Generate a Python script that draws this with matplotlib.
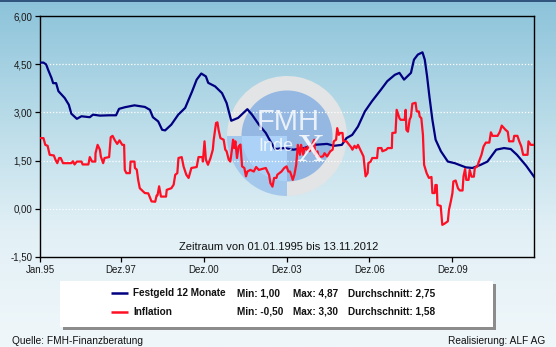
import numpy as np
import matplotlib
matplotlib.use("Agg")
import matplotlib.pyplot as plt
from matplotlib.patches import Circle, Wedge, Rectangle
from matplotlib.colors import LinearSegmentedColormap

# month offsets since Jan 1995 and values
fest_months = [0, 1.5, 2.7, 3.5, 5, 5.7, 7, 8, 10.7, 12.5, 13.6, 16, 18, 21.6, 23, 26, 30, 33,
               34.3, 36.8, 41, 45.5, 47.7, 49, 51.3, 53, 54.3, 57, 60, 63, 66, 68, 70, 72, 73,
               76, 79, 81, 83, 86, 90, 92, 95, 98, 100, 102, 106, 110, 114.5, 119, 124.6,
               127.5, 131, 133, 135.5, 138, 141, 144, 148, 150.7, 154, 156, 158, 161, 162.3,
               164, 166, 167, 168, 169, 170.3, 171.7, 174, 177, 180, 184.8, 187.7, 191.3,
               194.2, 198, 201.4, 204.3, 207, 211, 214.4]
fest_values = [4.55, 4.55, 4.49, 4.33, 4.07, 3.91, 3.91, 3.66, 3.45, 3.24, 2.96, 2.80, 2.88,
               2.85, 2.93, 2.90, 2.91, 2.91, 3.11, 3.16, 3.22, 3.17, 3.08, 2.85, 2.72, 2.46,
               2.44, 2.62, 2.93, 3.14, 3.65, 4.02, 4.21, 4.12, 3.92, 3.81, 3.60, 3.29, 2.74,
               2.83, 3.10, 2.93, 2.62, 2.36, 2.10, 1.86, 1.89, 1.84, 1.89, 1.99, 2.02, 1.96,
               1.99, 2.20, 2.30, 2.56, 3.03, 3.34, 3.71, 3.97, 4.17, 4.23, 4.02, 4.23, 4.64,
               4.80, 4.87, 4.64, 4.12, 3.50, 2.77, 2.15, 1.79, 1.47, 1.42, 1.29, 1.27, 1.37,
               1.47, 1.84, 1.89, 1.86, 1.68, 1.34, 1.00]

infl_months = [0, 1.5, 2.3, 3.3, 4.2, 6, 6.7, 7.5, 8.3, 9, 10, 13.6, 14.3, 15, 16, 18, 18.5,
               21, 21.6, 22.6, 24, 24.1, 25, 26, 26.4, 27.4, 28, 30, 30.7, 31.5, 32.5, 33.5,
               34.5, 35.7, 36.5, 36.8, 37.5, 39, 39.3, 41, 41.2, 42, 42.6, 43.3, 45.5, 47,
               48.4, 50, 50.6, 51, 51.7, 52.5, 54.7, 55, 57, 58, 58.7, 59.6, 60.1, 61.5, 62.3,
               63.5, 64.5, 65.7, 68, 68.8, 70.5, 70.7, 71.4, 72, 72.9, 74, 75, 75.4, 76.4, 77,
               77.5, 78.3, 79.7, 80.4, 81, 81.9, 82.6, 83.3, 83.8, 84.3, 84.8, 85.5, 86.2, 87,
               87.7, 88.7, 89.4, 90, 91.3, 92.8, 93.8, 95, 96.4, 98, 98.7, 99.4, 100, 100.9,
               101.6, 102.6, 103, 104.8, 106, 107, 107.8, 108.5, 109, 109.7, 110.4, 111.2,
               111.9, 112.8, 113.3, 114.3, 114.8, 115.7, 116.2, 117, 118, 119, 119.4, 120.4,
               121, 122.8, 123.5, 124.6, 126, 127, 127.5, 128.5, 129, 129.7, 130.3, 131.3,
               131.6, 133, 135, 135.6, 136.5, 137.3, 138, 139, 140.4, 141.3, 142.2, 142.5,
               143.5, 144.2, 146.3, 146.7, 148.2, 148.6, 150.3, 150.9, 152.7, 152.9, 154.3,
               154.8, 156, 156.5, 158.3, 158.7, 159, 159.7, 160.4, 161, 161.6, 163, 163.5,
               164.4, 164.8, 165.5, 166.2, 166.7, 167.8, 168.8, 169.9, 170.3, 171.3, 171.6,
               172.2, 172.5, 173.9, 174.6, 175.4, 177, 177.5, 178.3, 179, 179.4, 180.4, 181.4,
               182.2, 183.4, 183.8, 184.5, 185, 186, 186.5, 187.3, 188.3, 188.7, 189.8, 190.5,
               191.6, 192.5, 193.5, 195, 195.7, 196.4, 198.6, 199.6, 200.4, 201.4, 202, 203,
               203.6, 205.4, 205.8, 207.2, 208, 208.9, 209.7, 211.6, 212, 213, 214.4]
infl_values = [2.20, 2.20, 1.99, 1.96, 1.68, 1.66, 1.53, 1.42, 1.58, 1.58, 1.42, 1.42, 1.48,
               1.38, 1.47, 1.47, 1.38, 1.38, 1.61, 1.47, 1.47, 1.73, 1.99, 1.84, 1.63, 1.42,
               1.58, 1.61, 2.23, 2.27, 2.13, 2.02, 2.13, 1.99, 1.99, 1.21, 1.11, 1.11, 1.47,
               1.47, 1.27, 1.22, 0.90, 0.64, 0.49, 0.48, 0.23, 0.22, 0.41, 0.42, 0.70, 0.38,
               0.38, 0.59, 0.64, 0.75, 1.06, 1.11, 1.58, 1.61, 1.32, 1.06, 0.96, 1.27, 1.30,
               1.61, 1.61, 1.47, 2.10, 1.53, 1.37, 1.58, 1.84, 2.15, 2.67, 2.69, 2.46, 2.20,
               2.15, 1.84, 1.79, 1.53, 1.47, 1.84, 2.15, 1.89, 2.10, 1.58, 1.94, 2.00, 1.32,
               1.27, 1.01, 1.16, 1.21, 1.16, 1.30, 1.21, 1.24, 1.27, 1.16, 1.06, 0.80, 0.69,
               0.96, 0.96, 1.06, 1.16, 1.27, 1.32, 1.16, 1.16, 1.06, 0.90, 1.06, 1.37, 1.99,
               1.68, 1.99, 1.68, 1.89, 1.84, 1.94, 1.79, 1.96, 2.15, 1.68, 1.79, 1.61, 1.63,
               1.73, 1.63, 1.79, 1.84, 2.10, 2.15, 2.51, 2.30, 2.36, 2.36, 2.10, 2.10, 1.92,
               1.84, 1.96, 1.89, 1.99, 1.84, 1.63, 1.01, 1.11, 1.42, 1.47, 1.58, 1.58, 1.89,
               1.89, 1.79, 1.84, 1.89, 1.89, 2.36, 2.37, 3.08, 2.82, 2.77, 2.77, 3.08, 2.46,
               2.40, 2.77, 2.87, 3.27, 3.30, 3.03, 3.03, 2.87, 2.82, 2.30, 1.37, 1.11, 0.96,
               0.99, 0.49, 0.49, 0.74, 0.74, 0.12, 0.09, -0.50, -0.47, -0.39, -0.03, 0.23,
               0.49, 0.85, 0.88, 0.64, 0.57, 0.57, 1.01, 1.24, 0.90, 0.90, 1.21, 1.00, 1.00,
               1.27, 1.32, 1.47, 1.68, 1.94, 2.06, 2.06, 2.38, 2.27, 2.27, 2.40, 2.59, 2.51,
               2.46, 2.40, 2.10, 2.10, 2.27, 2.27, 2.10, 1.94, 1.68, 1.68, 2.10, 1.99, 1.99]

tick_dates = [(1995, 1), (1997, 12), (2000, 12), (2003, 12), (2006, 12), (2009, 12)]
tick_labels = ["Jan.95", "Dez.97", "Dez.00", "Dez.03", "Dez.06", "Dez.09"]
y_ticks = [-1.5, 0.0, 1.5, 3.0, 4.5, 6.0]

series_names = ["Festgeld 12 Monate", "Inflation"]
series_min = ["1,00", "-0,50"]
series_max = ["4,87", "3,30"]
series_avg = ["2,75", "1,58"]
series_colors = ["#000080", "#ff0f24"]

W, H = 556, 347
fig = plt.figure(figsize=(W / 100, H / 100), dpi=100)

# background gradient + static decorations in pixel coordinates
bg = fig.add_axes([0, 0, 1, 1], zorder=0)
bg.set_xlim(0, W)
bg.set_ylim(H, 0)
bg.axis("off")
cmap = LinearSegmentedColormap.from_list("bg", ["#8cc3da", "#b8dbe8", "#e2f0f6", "#f0f7fa"])
grad = np.linspace(0, 1, 256).reshape(-1, 1)
bg.imshow(grad, cmap=cmap, aspect="auto", extent=(0, W, H, 0))
bg.plot([0, W], [0.6, 0.6], color="#1f3f6b", lw=1.2)

# FMH logo watermark
cx, cy = 287, 136
bg.add_patch(Wedge((cx, cy), 60, 180, 450, width=15, color="#e2e4e5", lw=0))
bg.add_patch(Wedge((cx, cy), 60, 90, 180, width=15, color="#a4c7ec", lw=0))
bg.add_patch(Circle((cx, cy), 45.5, color="#94b8e2", lw=0))
bg.add_patch(Wedge((cx, cy), 45.5, 90, 180, color="#acd2f7", lw=0))

# legend box
bg.add_patch(Rectangle((63, 284), 433, 46, color="#8c8c8c", lw=0))
bg.add_patch(Rectangle((60, 281), 433, 46, color="white", lw=0))
rows_y = [293, 312]
for i in range(2):
    yy = rows_y[i]
    bg.plot([111, 128], [yy, yy], color=series_colors[i], lw=1.8, solid_capstyle="butt")
    kw = dict(fontsize=7.2, fontweight="bold", va="center", color="#111111",
              family="Liberation Sans")
    bg.text(133, yy, series_names[i], **kw)
    bg.text(237, yy, "Min: " + series_min[i], **kw)
    bg.text(293, yy, "Max: " + series_max[i], **kw)
    bg.text(348, yy, "Durchschnitt: " + series_avg[i], **kw)

bg.text(12, 341, "Quelle: FMH-Finanzberatung", fontsize=7.3, va="center",
        color="#111111", family="Liberation Sans")
bg.text(545, 341, "Realisierung: ALF AG", fontsize=7.3, va="center", ha="right",
        color="#111111", family="Liberation Sans")

# main chart
ax = fig.add_axes([40 / W, 1 - 257 / H, (534 - 40) / W, (257 - 16) / H], zorder=1)
ax.patch.set_alpha(0)
ax.plot(fest_months, fest_values, color=series_colors[0], lw=1.6, zorder=3)
ax.plot(infl_months, infl_values, color=series_colors[1], lw=1.6, zorder=3)

ax.set_xlim(0, 214.4)
ax.set_ylim(-1.5, 6.0)
xt = [(y - 1995) * 12 + (m - 1) for y, m in tick_dates]
ax.set_xticks(xt)
ax.set_xticklabels(tick_labels)
ax.set_yticks(y_ticks)
ax.set_yticklabels([f"{v:.2f}".replace(".", ",") for v in y_ticks])
for v in y_ticks[1:-1]:
    ax.axhline(v, color="white", lw=0.9, ls=(0, (1, 1.5)), zorder=1)
ax.tick_params(length=3.5, width=0.9, labelsize=7, colors="black", pad=2)
for lab in ax.get_xticklabels() + ax.get_yticklabels():
    lab.set_family("Liberation Sans")
    lab.set_color("#1a1a1a")
for s in ax.spines.values():
    s.set_linewidth(1.0)
    s.set_color("black")

fig.text(179 / W, 1 - 247 / H, "Zeitraum von 01.01.1995 bis 13.11.2012", fontsize=8,
         family="Liberation Sans", color="#111111", va="center", zorder=5)

# watermark lettering on top
top = fig.add_axes([0, 0, 1, 1], zorder=2)
top.set_xlim(0, W)
top.set_ylim(H, 0)
top.axis("off")
top.patch.set_alpha(0)
top.text(288, 122, "FMH", fontsize=21, color="white", ha="center", va="center",
         family="Liberation Sans", alpha=0.8)
top.text(258, 146, "Inde", fontsize=13, color="white", ha="left", va="center",
         family="Liberation Sans", alpha=0.8)
top.text(310, 151, "X", fontsize=28, color="white", ha="center", va="center",
         family="Liberation Serif", alpha=0.85)

fig.savefig("out.png", dpi=100)
